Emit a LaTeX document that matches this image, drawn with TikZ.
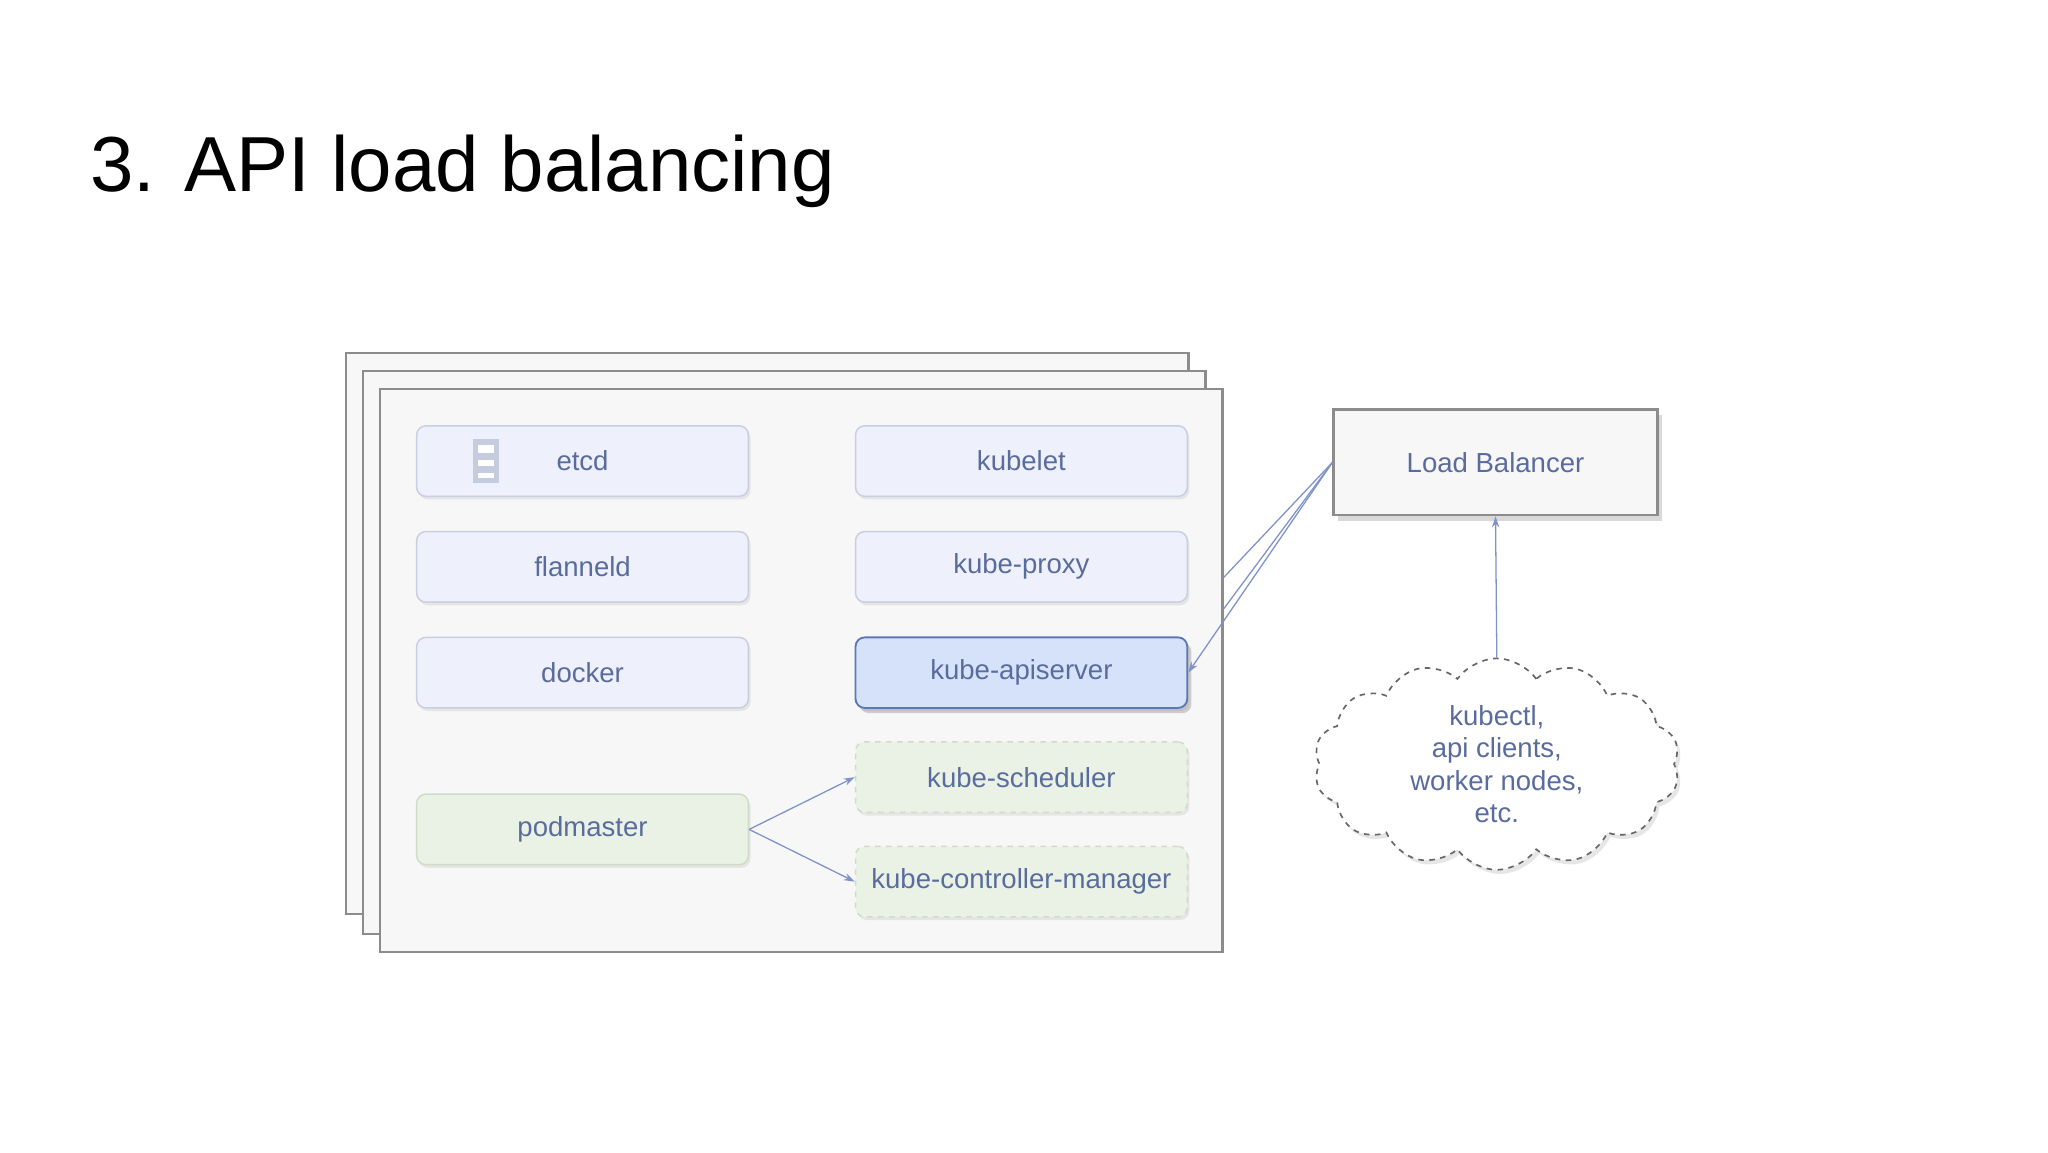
\documentclass[tikz,border=0pt]{standalone}
\usepackage{fontspec}
\setmainfont{Liberation Sans}
\usetikzlibrary{shapes.symbols,shadows,arrows.meta}
\definecolor{txt}{HTML}{5A6C9E}
\definecolor{bfill}{HTML}{EEF1FB}
\definecolor{bline}{HTML}{C9CEE0}
\definecolor{gfill}{HTML}{EAF2E6}
\definecolor{gline}{HTML}{CFDCC8}
\definecolor{afill}{HTML}{D5E2FA}
\definecolor{aline}{HTML}{5B77B5}
\definecolor{arr}{HTML}{7F93C8}
\begin{document}
\begin{tikzpicture}[x=0.25mm,y=-0.25mm,
 frame/.style={draw=black!45,fill=black!3,line width=1.2pt},
 box/.style={draw=bline,fill=bfill,rounded corners=5pt,line width=0.8pt,minimum width=254*0.25mm,minimum height=54*0.25mm,font=\fontsize{15}{16}\selectfont,text=txt,drop shadow={shadow xshift=0.4mm,shadow yshift=-0.6mm,opacity=0.15}},
 gbox/.style={box,fill=gfill,draw=gline},
 gdbox/.style={gbox,dashed},
 con/.style={draw=arr,line width=0.7pt},
 tip/.style={-{Stealth[length=6pt,width=4pt]}}]
\useasboundingbox (0,0) rectangle (1568,882);
\node[anchor=west,font=\fontsize{42.5}{46}\selectfont] (title) at (64,131) {3. API load balancing};
\draw[frame] (265,270) rectangle (910,700);
\draw[frame] (278,284) rectangle (923,715);
\draw[frame] (291,298) rectangle (936,729);
\coordinate (fe1) at (937,442);
\coordinate (fe2) at (937,466);
\node[box] (etcd) at (446,353) {etcd};
\node[box] (flannel) at (446,434) {flanneld};
\node[box] (docker) at (446,515) {docker};
\node[gbox] (pod) at (446,635) {podmaster};
\node[box] (kubelet) at (782,353) {kubelet};
\node[box] (proxy) at (782,434) {kube-proxy};
\node[box,fill=afill,draw=aline,line width=1pt,drop shadow={shadow xshift=0.8mm,shadow yshift=-1mm,opacity=0.35}] (api) at (782,515) {kube-apiserver};
\node[gdbox] (sched) at (782,595) {kube-scheduler};
\node[gdbox] (ctrl) at (782,675) {kube-controller-manager};
% etcd icon
\begin{scope}[fill=txt!35,draw=none]
\fill (362,336) rectangle (382,370);
\fill[white] (366,341) rectangle (378,347);
\fill[white] (366,352) rectangle (378,357);
\fill[white] (366,362) rectangle (378,366);
\end{scope}
\node[draw=black!45,fill=black!3,line width=1.2pt,minimum width=248*0.25mm,minimum height=81*0.25mm,font=\fontsize{15}{16}\selectfont,text=txt,drop shadow={shadow xshift=0.8mm,shadow yshift=-1mm,opacity=0.3}] (lb) at (1145,354) {Load Balancer};
\node[cloud,cloud puffs=14,cloud puff arc=110,aspect=1.6,draw=black!60,dashed,fill=white,line width=0.9pt,minimum width=280*0.25mm,minimum height=160*0.25mm,align=center,font=\fontsize{15}{17.5}\selectfont,text=txt,drop shadow={shadow xshift=0.6mm,shadow yshift=-0.8mm,opacity=0.2}] (cloud) at (1146,585) {kubectl,\\api clients,\\worker nodes,\\etc.};
\draw[con] (lb.west) -- (fe1);
\draw[con] (lb.west) -- (fe2);
\draw[con,tip] (lb.west) -- (api.east);
\draw[con,tip] (cloud.north) -- (lb.south);
\draw[con,tip] (pod.east) -- (sched.west);
\draw[con,tip] (pod.east) -- (ctrl.west);
\end{tikzpicture}
\end{document}
